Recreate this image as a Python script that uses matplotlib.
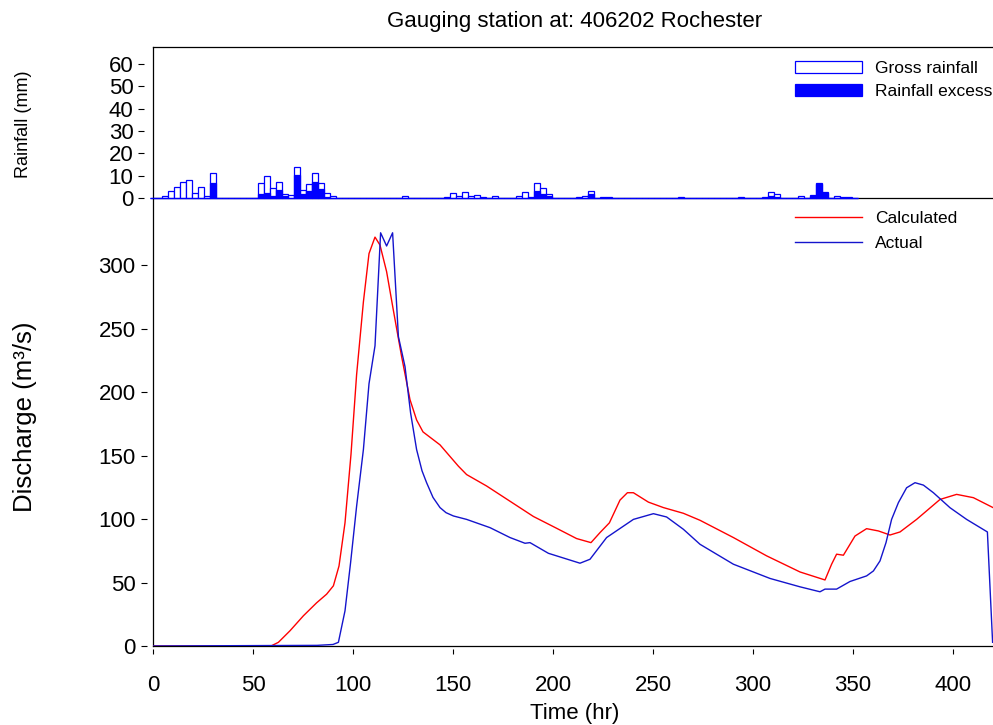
import numpy as np
import matplotlib
matplotlib.use("Agg")
import matplotlib.pyplot as plt
from matplotlib.patches import Patch
from matplotlib.lines import Line2D

plt.rcParams['font.family'] = ['Liberation Sans', 'DejaVu Sans']

# ---- rainfall (3-hourly), only non-zero steps listed ----
rain_step = 3
rain_end = 351
rain_t = [6, 9, 12, 15, 18, 21, 24, 27, 30,
          48, 54, 57, 60, 63, 66, 69, 72, 75, 78, 81, 84, 87, 90,
          126, 147, 150, 153, 156, 159, 162, 165, 171,
          183, 186, 189, 192, 195, 198, 213, 216, 219, 225, 228,
          264, 294, 306, 309, 312, 324, 330, 333, 336, 342, 345, 348]
gross_mm = [0.9, 3.3, 4.8, 7.3, 7.9, 2.4, 4.9, 0.9, 11.0,
            0.2, 6.9, 9.9, 4.5, 7.3, 1.9, 1.3, 13.9, 3.7, 6.4, 11.0, 6.9, 2.4, 0.7,
            0.9, 0.6, 2.4, 0.9, 2.7, 0.7, 1.2, 0.6, 0.9,
            0.9, 2.8, 0.6, 6.7, 4.5, 1.9, 0.3, 0.9, 3.1, 0.3, 0.3,
            0.3, 0.3, 0.6, 2.8, 1.6, 0.9, 1.2, 6.9, 2.5, 0.7, 0.6, 0.3]
excess_mm = [0, 0, 0, 0, 0, 0, 0, 0, 6.6,
             0, 1.6, 2.4, 0.9, 3.4, 0.9, 0, 10.1, 1.9, 3.0, 7.0, 3.9, 0.4, 0,
             0, 0, 0, 0, 0, 0, 0, 0, 0,
             0, 0, 0, 3.0, 1.9, 0.7, 0, 0, 1.6, 0, 0,
             0, 0, 0, 0.7, 0.5, 0, 0.9, 6.4, 2.4, 0, 0, 0]

# ---- discharge hydrographs (m3/s) ----
calc_t = [0, 59, 62.7, 68.5, 75.2, 81.8, 86.8, 90.2, 93, 96, 99, 101.8, 105.2,
          108, 111, 113.5, 116.8, 120, 124.3, 128.5, 131.8, 135, 140, 143.5,
          152.7, 156.8, 166.8, 178.5, 190.2, 201.8, 211.8, 219, 223.5, 228.2,
          233.5, 237.2, 240.2, 247.7, 255.2, 265.2, 273.5, 290.2, 306.8, 323.5,
          336, 339.3, 341.8, 345.2, 351, 356.8, 362.7, 368.5, 373.5, 381.8,
          393.5, 401.8, 410.2, 420]
calc_q = [0, 0, 2.9, 12, 23.8, 34, 40.8, 47.4, 63, 97, 151, 213.6, 271,
          309, 322, 315.7, 294.8, 266, 228, 194, 178, 168.6, 162.6, 158.4,
          141.6, 135, 126, 114, 102, 92.7, 84.6, 81.4, 89.3, 97,
          114.9, 120.7, 120.7, 113.3, 109, 104.5, 99, 85.4, 71, 58.3,
          52, 64.4, 72.3, 71.5, 86.6, 92.4, 90.6, 87.4, 89.8, 99.7,
          115.4, 119.4, 116.8, 109]

actual_t = [0, 82, 90, 92.7, 96, 98.8, 101.8, 105.2, 108, 111, 113.8, 116.8,
            119.8, 122.7, 126, 128.8, 131.8, 134.5, 136.8, 140, 143.5, 146.5,
            150.2, 156.8, 168.5, 178.5, 186, 188.5, 197.7, 213.5, 218.5, 226.8,
            240.2, 250.2, 256.8, 265.2, 273.5, 290.2, 308.5, 323.5, 333.5, 336,
            341.8, 348.5, 356.8, 360.2, 363.5, 366.5, 369.3, 372.7, 376.8, 381,
            385.2, 390.2, 398.5, 406.8, 417.2, 419.8]
actual_q = [0, 0.5, 1.2, 2.9, 27.7, 65.7, 110, 154.7, 206.5, 236.4, 325.4, 315,
            325.4, 243.7, 220, 183.5, 154.7, 138, 128.6, 117, 109, 105,
            102.4, 99.7, 93.2, 85.4, 80.9, 81.4, 73, 65.2, 68.3, 85.4,
            99.7, 104.2, 101.6, 91.9, 80.1, 64.4, 53.2, 46.6, 42.7, 44.8,
            44.8, 50.8, 55.2, 59.1, 67, 81.4, 99.7, 112.9, 124.6, 128.6,
            126.7, 120.7, 108.9, 99.7, 89.8, 2.9]

# full 3-hourly grid so the zero steps also show as blue ticks on the baseline
steps = np.arange(0, rain_end + 1, rain_step)
gross_full = np.zeros(len(steps))
excess_full = np.zeros(len(steps))
for t, g, e in zip(rain_t, gross_mm, excess_mm):
    i = int(round(t / rain_step))
    gross_full[i] = g
    excess_full[i] = e

W, H = 993, 725
fig = plt.figure(figsize=(W / 100, H / 100), dpi=100)

def fx(px):
    return px / W

def fy(py):
    return 1 - py / H

ax_r = fig.add_axes([fx(153), fy(198), 1 - fx(153), fy(47) - fy(198)])
ax_q = fig.add_axes([fx(153), fy(646), 1 - fx(153), fy(199) - fy(646)])

blue_bar = '#0000FF'
ax_r.bar(steps, gross_full, width=rain_step, color='white', edgecolor=blue_bar,
         linewidth=0.9, zorder=3, clip_on=False)
ax_r.bar(steps, excess_full, width=rain_step, color=blue_bar, edgecolor=blue_bar,
         linewidth=0.9, zorder=4, clip_on=False)
ax_r.set_xlim(0, 420)
ax_r.set_ylim(0, 67.6)
ax_r.set_yticks(range(0, 61, 10))
ax_r.set_xticks([])
ax_r.spines['right'].set_visible(False)
# ticks sit a little away from the axis line, as in the original
ax_r.spines['left'].set_position(('outward', 6.5))
ax_r.spines['left'].set_visible(False)
ax_r.axvline(0, color='black', lw=0.9, clip_on=False, zorder=2)
ax_r.tick_params(axis='y', direction='out', length=4, width=0.8, pad=3.6,
                 labelsize=16)
for s in ['top', 'bottom']:
    ax_r.spines[s].set_linewidth(0.9)

ax_q.plot(calc_t, calc_q, color='#FF0000', lw=1.0, zorder=3)
ax_q.plot(actual_t, actual_q, color='#1414CC', lw=1.0, zorder=3)
ax_q.set_xlim(0, 420)
ax_q.set_ylim(0, 352)
ax_q.set_xticks(range(0, 401, 50))
ax_q.set_yticks(range(0, 301, 50))
ax_q.spines['top'].set_visible(False)
ax_q.spines['right'].set_visible(False)
ax_q.spines['left'].set_position(('outward', 4.5))
ax_q.spines['bottom'].set_position(('outward', 2))
ax_q.spines['left'].set_visible(False)
ax_q.spines['bottom'].set_visible(False)
ax_q.axvline(0, color='black', lw=0.9, clip_on=False, zorder=2)
ax_q.axhline(0, color='black', lw=0.9, clip_on=False, zorder=2)
ax_q.tick_params(axis='y', direction='out', length=4.5, width=0.8, pad=3.6,
                 labelsize=16)
ax_q.tick_params(axis='x', direction='out', length=3.5, width=0.8, pad=15.5,
                 labelsize=16)
ax_q.patch.set_alpha(0)

fig.text(fx(575), fy(22), 'Gauging station at: 406202 Rochester',
         ha='center', va='center', fontsize=16)
fig.text(fx(575), fy(714), 'Time (hr)', ha='center', va='center', fontsize=16)
fig.text(fx(24), fy(124), 'Rainfall (mm)', ha='center', va='center',
         rotation=90, fontsize=13)
fig.text(fx(25), fy(417), 'Discharge (m\u00b3/s)', ha='center', va='center',
         rotation=90, fontsize=18.5)

rain_handles = [Patch(facecolor='white', edgecolor=blue_bar, linewidth=0.9),
                Patch(facecolor=blue_bar, edgecolor=blue_bar, linewidth=0.9)]
fig.legend(rain_handles, ['Gross rainfall', 'Rainfall excess'],
           loc='upper left', bbox_to_anchor=(fx(795), fy(61)),
           bbox_transform=fig.transFigure, frameon=False, fontsize=12.5,
           borderpad=0, borderaxespad=0, handlelength=3.85,
           handletextpad=0.75, labelspacing=0.47)

line_handles = [Line2D([], [], color='#FF0000', lw=1.0),
                Line2D([], [], color='#1414CC', lw=1.0)]
fig.legend(line_handles, ['Calculated', 'Actual'],
           loc='upper left', bbox_to_anchor=(fx(795), fy(211)),
           bbox_transform=fig.transFigure, frameon=False, fontsize=12.5,
           borderpad=0, borderaxespad=0, handlelength=3.85,
           handletextpad=0.75, labelspacing=0.58)

fig.savefig('out.png', dpi=100)
